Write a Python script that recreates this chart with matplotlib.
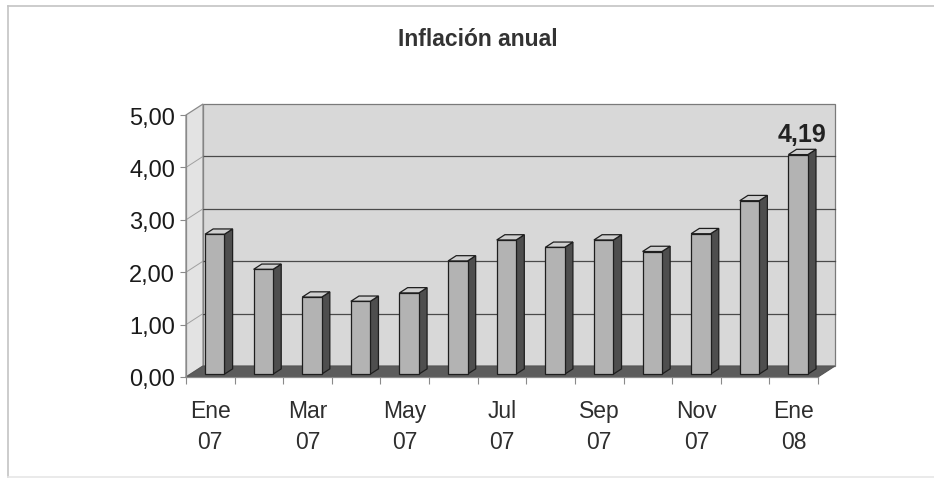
import matplotlib
matplotlib.use("Agg")
import matplotlib.pyplot as plt
import matplotlib.transforms as mtransforms
from matplotlib.patches import Polygon
from matplotlib.lines import Line2D

plt.rcParams['font.family'] = ['Liberation Sans', 'DejaVu Sans']

# Monthly annual inflation, Jan 2007 - Jan 2008
months = ["Ene 07", "Feb 07", "Mar 07", "Abr 07", "May 07", "Jun 07", "Jul 07",
          "Ago 07", "Sep 07", "Oct 07", "Nov 07", "Dic 07", "Ene 08"]
inflation = [2.67, 2.00, 1.47, 1.39, 1.55, 2.16, 2.56, 2.42, 2.56, 2.34, 2.68, 3.31, 4.19]
tick_labels = ["Ene\n07", "Mar\n07", "May\n07", "Jul\n07", "Sep\n07", "Nov\n07", "Ene\n08"]
y_ticks = [0, 1, 2, 3, 4, 5]
highlight_label = "4,19"

W, H, DPI = 934, 481, 100
fig = plt.figure(figsize=(W / DPI, H / DPI), dpi=DPI)
fig.patch.set_facecolor("white")

# front plane of the 3-D box
ax = fig.add_axes([186 / W, 103 / H, 632 / W, 262 / H])
n = len(inflation)
ax.set_xlim(0, n)
ax.set_ylim(0, 5)
ax.set_autoscale_on(False)
ax.patch.set_visible(False)

# oblique depth offset (pixels) and bar depth range
DX, DY = 17, 11
D0, D1 = 0.26, 0.74
BW = 0.40
ident = mtransforms.IdentityTransform()


def to_px(x, y, d=0.0):
    px, py = ax.transData.transform((x, y))
    return (px + d * DX, py + d * DY)


def face(points, z, **kw):
    poly = Polygon([to_px(*p) for p in points], closed=True, transform=ident,
                   clip_on=False, zorder=z, **kw)
    ax.add_patch(poly)


def seg(p0, p1, z, **kw):
    a, b = to_px(*p0), to_px(*p1)
    ax.add_line(Line2D([a[0], b[0]], [a[1], b[1]], transform=ident,
                       clip_on=False, zorder=z, **kw))


# walls and floor
face([(0, 0, 1), (n, 0, 1), (n, 5, 1), (0, 5, 1)], 1,
     facecolor="#d8d8d8", edgecolor="#7a7a7a", linewidth=0.9)
face([(0, 0, 0), (0, 5, 0), (0, 5, 1), (0, 0, 1)], 1,
     facecolor="#e3e3e3", edgecolor="#8a8a8a", linewidth=0.9)
for yv in y_ticks[1:-1]:
    seg((0, yv, 1), (n, yv, 1), 1.5, color="#4a4a4a", linewidth=0.9)
    seg((0, yv, 0), (0, yv, 1), 1.5, color="#a0a0a0", linewidth=0.7)
face([(0, 0, 0), (n, 0, 0), (n, 0, 1), (0, 0, 1)], 2,
     facecolor="#5c5c5c", edgecolor="#555555", linewidth=0.8)

# bars: front faces drawn by ax.bar, shifted to the bar depth
x = [i + 0.5 for i in range(n)]
front_tr = mtransforms.offset_copy(ax.transData, fig=fig, x=D0 * DX, y=D0 * DY, units="dots")
for xc, v in zip(x, inflation):
    x0, x1 = xc - BW / 2, xc + BW / 2
    face([(x1, 0, D0), (x1, v, D0), (x1, v, D1), (x1, 0, D1)], 3,
         facecolor="#4e4e4e", edgecolor="#1e1e1e", linewidth=0.9)
    face([(x0, v, D0), (x1, v, D0), (x1, v, D1), (x0, v, D1)], 3,
         facecolor="#cfcfcf", edgecolor="#1e1e1e", linewidth=0.9)
ax.bar(x, inflation, width=BW, transform=front_tr, color="#b3b3b3",
       edgecolor="#1e1e1e", linewidth=0.9, zorder=4, clip_on=False)

# value label on the last bar
lab_tr = mtransforms.offset_copy(ax.transData, fig=fig, x=0.5 * DX, y=D1 * DY + 8, units="dots")
ax.text(x[-1], inflation[-1], highlight_label, transform=lab_tr, ha="center", va="baseline",
        fontsize=18, fontweight="bold", color="#222222", zorder=5)

# axes
for s in ("top", "right"):
    ax.spines[s].set_visible(False)
for s in ("left", "bottom"):
    ax.spines[s].set_color("#8a8a8a")
    ax.spines[s].set_linewidth(0.9)
    ax.spines[s].set_zorder(5)

ax.set_yticks(y_ticks)
ax.set_yticklabels([f"{v:.2f}".replace(".", ",") for v in y_ticks])
ax.tick_params(axis="y", direction="out", length=4, width=0.8, color="#8a8a8a",
               labelsize=17, labelcolor="#1a1a1a", pad=4)

ax.set_xticks(x[::2])
ax.set_xticklabels(tick_labels, linespacing=1.45)
ax.set_xticks(range(n + 1), minor=True)
ax.tick_params(axis="x", which="major", length=0, pad=16, labelsize=16.5, labelcolor="#2e2e2e")
ax.tick_params(axis="x", which="minor", direction="out", length=5, width=0.8, color="#8a8a8a")

# title
fig.text(478 / W, 1 - 40 / H, "Inflación anual", ha="center", va="center",
         fontsize=16.5, fontweight="bold", color="#333333")

# outer chart border
border = dict(color="#c4c4c4", linewidth=1.2, transform=fig.transFigure)
fig.add_artist(Line2D([8 / W, 8 / W], [1 - 7 / H, 1 - 478 / H], **border))
fig.add_artist(Line2D([8 / W, 1.0], [1 - 7 / H, 1 - 7 / H], **border))
fig.add_artist(Line2D([8 / W, 1.0], [1 - 478 / H, 1 - 478 / H], color="#e6e6e6",
                      linewidth=1.2, transform=fig.transFigure))

fig.savefig("out.png", dpi=DPI)
